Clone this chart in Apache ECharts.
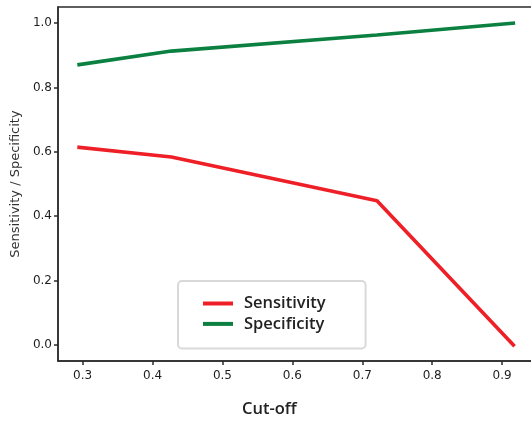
<!DOCTYPE html>
<html>
<head>
<meta charset="utf-8">
<script src="https://cdn.jsdelivr.net/npm/echarts@6/dist/echarts.min.js"></script>
<style>
html,body{margin:0;padding:0;background:#fff;}
#c{width:531px;height:422px;}
</style>
</head>
<body>
<div id="c"></div>
<script>
const cutoffs = [0.295, 0.427, 0.721, 0.916];
const sensitivity = [0.614, 0.584, 0.448, 0.0];
const specificity = [0.871, 0.913, 0.963, 1.0];
const xTicks = [0.3, 0.4, 0.5, 0.6, 0.7, 0.8, 0.9];
const yTicks = [0.0, 0.2, 0.4, 0.6, 0.8, 1.0];

const chart = echarts.init(document.getElementById('c'), null, {renderer: 'canvas'});
const lblFont = {fontFamily: 'DejaVu Sans', fontSize: 12, color: '#1e1e1e'};
const axisLine = {show: true, onZero: false, lineStyle: {color: '#2b2b2b', width: 1.5}};
const axisTick = {show: true, length: 4, lineStyle: {color: '#2b2b2b', width: 1.5}};

chart.setOption({
  animation: false,
  backgroundColor: '#fff',
  title: {
    text: 'Cut-off', left: 242, top: 401,
    padding: 0,
    textStyle: {fontFamily: 'Open Sans', fontWeight: 600, fontSize: 16.5, color: '#222'}
  },
  grid: {left: 58, top: 7, width: 477, height: 354, outerBoundsMode: 'none', containLabel: false,
         show: true, borderColor: '#2b2b2b', borderWidth: 1.5, backgroundColor: 'transparent'},
  xAxis: {
    type: 'value', min: 0.2648, max: 0.947,
    axisLine: axisLine,
    axisTick: Object.assign({customValues: xTicks}, axisTick),
    axisLabel: Object.assign({customValues: xTicks, margin: 9, formatter: v => v.toFixed(1)}, lblFont),
    splitLine: {show: false}
  },
  yAxis: {
    type: 'value', min: -0.05, max: 1.05,
    axisLine: axisLine,
    axisTick: Object.assign({customValues: yTicks}, axisTick),
    axisLabel: Object.assign({customValues: yTicks, margin: 6, formatter: v => v.toFixed(1)}, lblFont),
    splitLine: {show: false},
    name: 'Sensitivity / Specificity', nameLocation: 'middle', nameGap: 33,
    nameTextStyle: {fontFamily: 'DejaVu Sans', fontSize: 13, color: '#333'}
  },
  legend: {
    orient: 'vertical', left: 178, top: 281,
    data: [{name: 'Sensitivity', icon: 'rect'}, {name: 'Specificity', icon: 'rect'}],
    itemWidth: 30, itemHeight: 4, itemGap: 3.4,
    padding: [14, 40, 16, 25],
    backgroundColor: '#fff', borderColor: '#d9d9d9', borderWidth: 2, borderRadius: 4,
    textStyle: {fontFamily: 'Open Sans', fontWeight: 600, fontSize: 16.5, color: '#222', lineHeight: 17, padding: [0, 0, 0, 6]}
  },
  series: [
    {name: 'Sensitivity', type: 'line', data: cutoffs.map((x, i) => [x, sensitivity[i]]),
     showSymbol: false, symbol: 'none', lineStyle: {color: '#ee1f26', width: 3.6, cap: 'square'}, itemStyle: {color: '#ee1f26'}},
    {name: 'Specificity', type: 'line', data: cutoffs.map((x, i) => [x, specificity[i]]),
     showSymbol: false, symbol: 'none', lineStyle: {color: '#0b8040', width: 3.6, cap: 'square'}, itemStyle: {color: '#0b8040'}}
  ]
});
</script>
</body>
</html>
